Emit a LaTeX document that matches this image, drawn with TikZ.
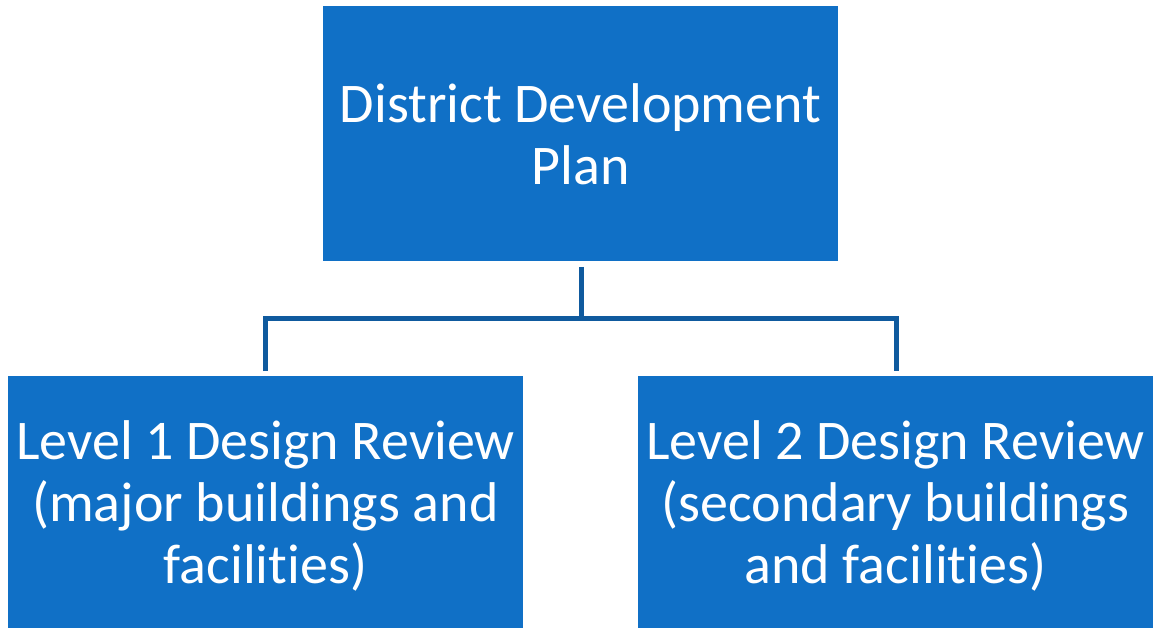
\documentclass[tikz,border=0pt]{standalone}
\usepackage{fontspec}
\setmainfont{Carlito}[Ligatures={NoCommon,NoRare,NoDiscretionary}]
\definecolor{boxblue}{HTML}{1070C6}
\definecolor{lineblue}{HTML}{0F5A9E}
\begin{document}
\begin{tikzpicture}[x=1pt,y=-1pt,
  boxstyle/.style={fill=boxblue,draw=none},
  txt/.style={text=white,align=center,font=\fontsize{56}{62}\selectfont,inner sep=0pt},
  conn/.style={draw=lineblue,line width=5pt}]
\useasboundingbox (0,0) rectangle (1153,628);
\fill[white] (0,0) rectangle (1153,628);
% boxes
\path[boxstyle] (323,6) rectangle (838,261);
\path[boxstyle] (8,376) rectangle (523,640);
\path[boxstyle] (638,376) rectangle (1160,640);
\node[txt] (top) at (580.5,134) {District Development\\Plan};
\node[txt] (l1) at (265.5,506) {Level 1 Design Review\\(major buildings and\\facilities)};
\node[txt] (l2) at (895.5,506) {Level 2 Design Review\\(secondary buildings\\and facilities)};
\coordinate (topb) at (581,267);
\coordinate (mid) at (581,318);
\coordinate (lt) at (265,371);
\coordinate (rt) at (896,371);
\draw[conn] (topb) -- (mid);
\draw[conn] (lt) |- (mid) -| (rt);
\end{tikzpicture}
\end{document}
